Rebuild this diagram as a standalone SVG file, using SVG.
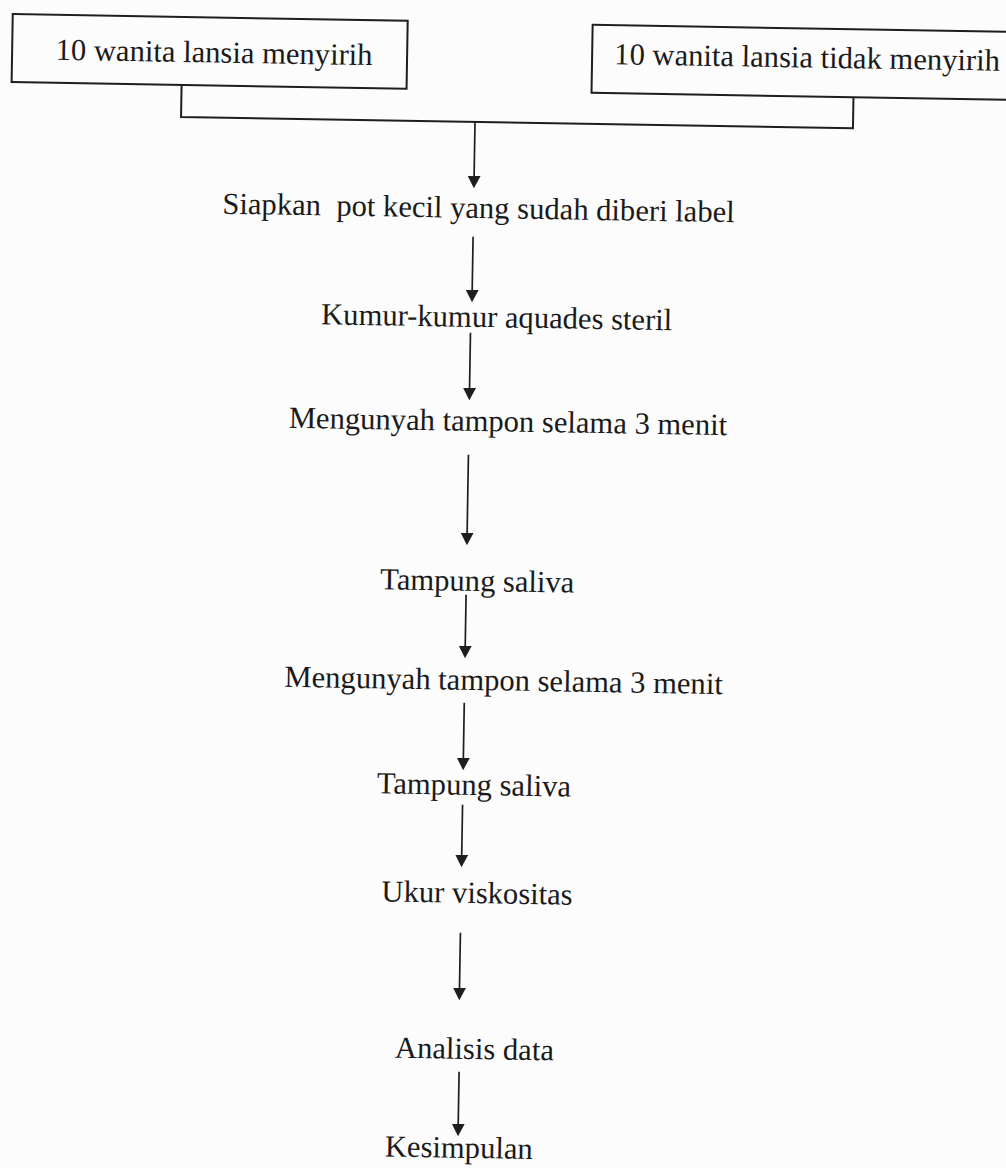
<svg xmlns="http://www.w3.org/2000/svg" width="1006" height="1168" viewBox="0 0 1006 1168">
  <style>
    .box { fill: none; stroke: #1e1e1e; stroke-width: 2; }
    .conn { fill: none; stroke: #1e1e1e; stroke-width: 2; }
    .arrow { fill: none; stroke: #1e1e1e; stroke-width: 1.7; marker-end: url(#head); }
    .lbl { font-family: "Liberation Serif", "Times New Roman", serif; font-size: 30.6px; fill: #1a1a1a; text-anchor: middle; }
  </style>
  <defs>
    <marker id="head" markerUnits="userSpaceOnUse" markerWidth="13" markerHeight="14" refX="8" refY="7" orient="auto" viewBox="0 0 13 14">
      <path d="M0,0.5 L12.5,7 L0,13.5 z" fill="#1e1e1e"/>
    </marker>
  </defs>
  <rect x="0" y="0" width="1006" height="1168" fill="#fcfcfc"/>
  <g transform="rotate(0.96 480 600)">
    <g id="node-menyirih">
      <rect class="box" x="3" y="22" width="395" height="68"/>
      <text class="lbl" x="205" y="67">10 wanita lansia menyirih</text>
    </g>
    <g id="node-tidak-menyirih">
      <rect class="box" x="583" y="23" width="460" height="68"/>
      <text class="lbl" x="798" y="62">10 wanita lansia tidak menyirih</text>
    </g>
    <g id="node-siapkan">
      <text class="lbl" x="472" y="218" xml:space="preserve">Siapkan  pot kecil yang sudah diberi label</text>
    </g>
    <g id="node-kumur">
      <text class="lbl" x="492" y="327">Kumur-kumur aquades steril</text>
    </g>
    <g id="node-mengunyah-1">
      <text class="lbl" x="505" y="431">Mengunyah tampon selama 3 menit</text>
    </g>
    <g id="node-tampung-1">
      <text class="lbl" x="477" y="591">Tampung saliva</text>
    </g>
    <g id="node-mengunyah-2">
      <text class="lbl" x="505" y="690">Mengunyah tampon selama 3 menit</text>
    </g>
    <g id="node-tampung-2">
      <text class="lbl" x="477" y="795">Tampung saliva</text>
    </g>
    <g id="node-ukur">
      <text class="lbl" x="482" y="903">Ukur viskositas</text>
    </g>
    <g id="node-analisis">
      <text class="lbl" x="482" y="1059">Analisis data</text>
    </g>
    <g id="node-kesimpulan">
      <text class="lbl" x="468" y="1158">Kesimpulan</text>
    </g>
    <g id="connectors">
      <polyline class="conn" points="173,90 173,122 845,122 845,91"/>
      <line class="arrow" x1="467" y1="122" x2="467" y2="184"/>
      <line class="arrow" x1="467" y1="237" x2="467" y2="298"/>
      <line class="arrow" x1="466" y1="333" x2="466" y2="396"/>
      <line class="arrow" x1="466" y1="455" x2="466" y2="541"/>
      <line class="arrow" x1="466" y1="595" x2="466" y2="654"/>
      <line class="arrow" x1="466" y1="703" x2="466" y2="766"/>
      <line class="arrow" x1="466" y1="805" x2="466" y2="863"/>
      <line class="arrow" x1="466" y1="933" x2="466" y2="996"/>
      <line class="arrow" x1="467" y1="1072" x2="467" y2="1132"/>
    </g>
  </g>
</svg>
